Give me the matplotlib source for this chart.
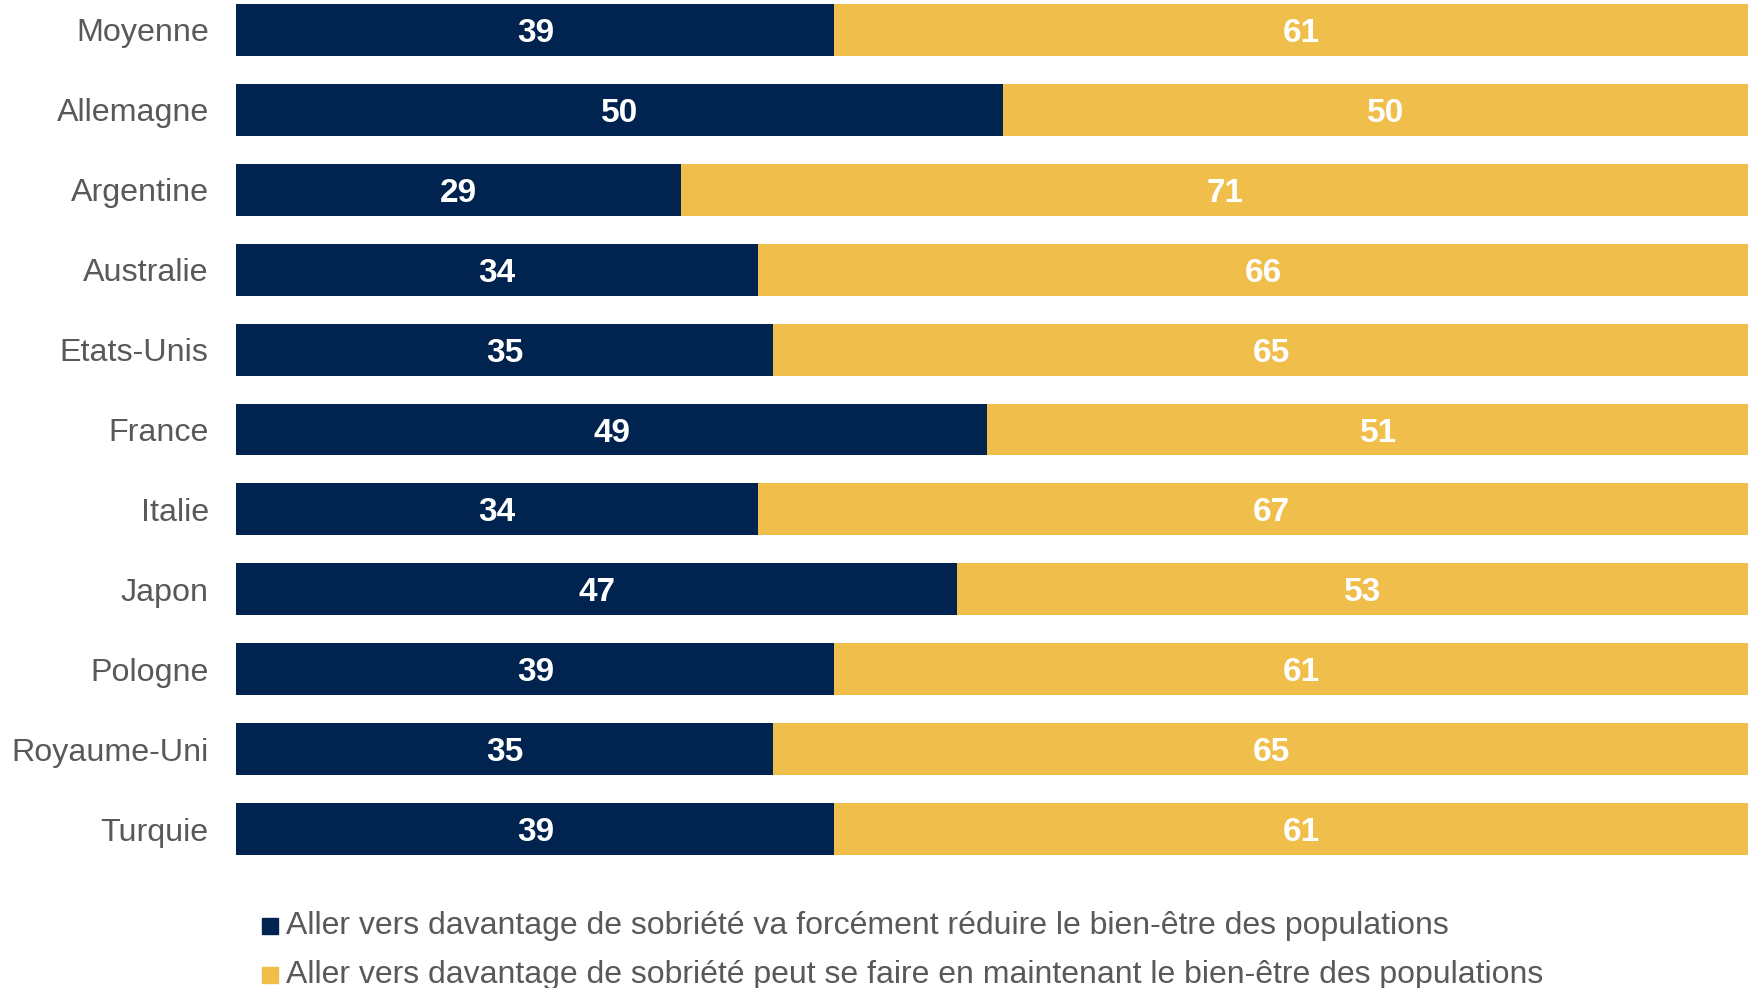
import matplotlib
matplotlib.use("Agg")
import matplotlib.pyplot as plt

#Data
pays = ["Moyenne", "Allemagne", "Argentine", "Australie", "Etats-Unis", "France",
        "Italie", "Japon", "Pologne", "Royaume-Uni", "Turquie"]
reduire = [39, 50, 29, 34, 35, 49, 34, 47, 39, 35, 39]
maintenir = [61, 50, 71, 66, 65, 51, 67, 53, 61, 65, 61]
legende = ["Aller vers davantage de sobriété va forcément réduire le bien-être des populations",
           "Aller vers davantage de sobriété peut se faire en maintenant le bien-être des populations"]

bleu = "#00244f"
jaune = "#f0be4a"
gris = "#595959"

plt.rcParams["font.family"] = ["Liberation Sans", "DejaVu Sans"]

W, H = 1749, 988
fig = plt.figure(figsize=(W / 100, H / 100), dpi=100)

#Axes (runs past the right edge like the original)
x0, x1 = 236.5, 1769
y_top, y_bot = 0, 869
ax = fig.add_axes([x0 / W, 1 - y_bot / H, (x1 - x0) / W, (y_bot - y_top) / H])

pos = list(range(len(pays)))
ax.barh(pos, reduire, height=0.65, color=bleu)
ax.barh(pos, maintenir, left=reduire, height=0.65, color=jaune)

for i in pos:
    ax.text(reduire[i] / 2, i, str(reduire[i]), ha="center", va="center_baseline",
            color="white", fontsize=24, fontweight="bold")
    ax.text(reduire[i] + maintenir[i] / 2, i, str(maintenir[i]), ha="center",
            va="center_baseline", color="white", fontsize=24, fontweight="bold")

ax.set_xlim(0, 100)
ax.set_ylim(10.5, -0.375)
ax.set_yticks(pos)
ax.set_yticklabels(pays, fontsize=23.2, color=gris)
ax.tick_params(axis="y", length=0, pad=20)
ax.set_xticks([])
for s in ax.spines.values():
    s.set_visible(False)

#Legend
for k, (txt, col) in enumerate(zip(legende, [bleu, jaune])):
    yy = [926, 975][k]
    fig.patches.append(plt.Rectangle(((270 - 8) / W, 1 - (yy + 8) / H), 16 / W, 16 / H,
                                     transform=fig.transFigure, color=col))
    fig.text(286 / W, 1 - yy / H, txt, ha="left", va="center", fontsize=23, color=gris)

fig.savefig("out.png", dpi=100)
